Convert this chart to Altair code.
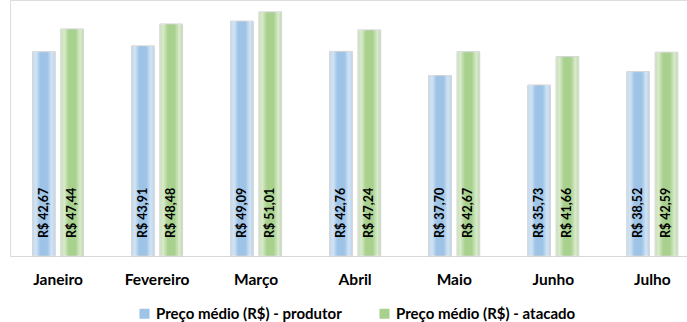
import altair as alt
import pandas as pd

# Monthly average prices (R$)
months = ["Janeiro", "Fevereiro", "Março", "Abril", "Maio", "Junho", "Julho"]
produtor = [42.67, 43.91, 49.09, 42.76, 37.70, 35.73, 38.52]
atacado = [47.44, 48.48, 51.01, 47.24, 42.67, 41.66, 42.59]
series = ["Preço médio (R$) - produtor", "Preço médio (R$) - atacado"]
colors = ["#9DC3E6", "#A9D18E"]

rows = []
for m, p, a in zip(months, produtor, atacado):
    for s, v in zip(series, [p, a]):
        rows.append({"month": m, "serie": s, "value": v,
                     "label": "R$ " + f"{v:.2f}".replace(".", ",")})
df = pd.DataFrame(rows)

FONT = "Lato"

x_enc = alt.X(
    "month:N", sort=months, title=None,
    scale=alt.Scale(paddingInner=0.485, paddingOuter=0.16, align=0.71),
    axis=alt.Axis(labelAngle=0, ticks=False, tickSize=0, labelPadding=16,
                  labelFont=FONT, labelFontWeight="bold", labelFontSize=15.5,
                  labelColor="#000000", domainColor="#D9D9D9", domainWidth=1,
                  grid=False),
)
xo_enc = alt.XOffset("serie:N", sort=series, scale=alt.Scale(paddingInner=0.2))
y_enc = alt.Y("value:Q", scale=alt.Scale(domain=[0, 53.5], nice=False, zero=True),
              axis=None)

base = alt.Chart(df).encode(x=x_enc, xOffset=xo_enc, y=y_enc)

bars = base.mark_bar(stroke="#CFCFCF", strokeWidth=1).encode(
    color=alt.Color(
        "serie:N", sort=series,
        scale=alt.Scale(domain=series, range=colors),
        legend=alt.Legend(
            title=None, orient="none", legendX=127, legendY=306,
            direction="horizontal", symbolType="square", symbolSize=100,
            symbolStrokeWidth=0, labelFont=FONT, labelFontWeight="bold",
            labelFontSize=15, labelColor="#000000", labelOffset=4,
            labelLimit=400, columnPadding=35,
        ),
    )
)

# glassy sheen over each bar
sheen = alt.LinearGradient(
    gradient="linear", x1=0, x2=1, y1=0, y2=0,
    stops=[
        alt.GradientStop(color="rgba(255,255,255,0.35)", offset=0),
        alt.GradientStop(color="rgba(255,255,255,0.55)", offset=0.15),
        alt.GradientStop(color="rgba(255,255,255,0)", offset=0.35),
        alt.GradientStop(color="rgba(255,255,255,0)", offset=0.65),
        alt.GradientStop(color="rgba(255,255,255,0.55)", offset=0.85),
        alt.GradientStop(color="rgba(255,255,255,0.25)", offset=1),
    ],
)
gloss = base.mark_bar(fill=sheen, strokeWidth=0)

labels = base.mark_text(
    angle=270, align="left", baseline="middle", dx=18,
    font=FONT, fontWeight="bold", fontSize=12.5, color="#000000",
).encode(y=alt.YDatum(0), text="label:N")

chart = (
    alt.layer(bars, gloss, labels)
    .properties(
        width=677, height=256,
        autosize=alt.AutoSizeParams(type="none"),
        padding={"left": 10, "top": 0, "right": 0, "bottom": 66},
    )
    .configure_view(stroke=None)
    .configure(background="white")
)

chart.save("out.html", embed_options={"renderer": "svg", "actions": False})
